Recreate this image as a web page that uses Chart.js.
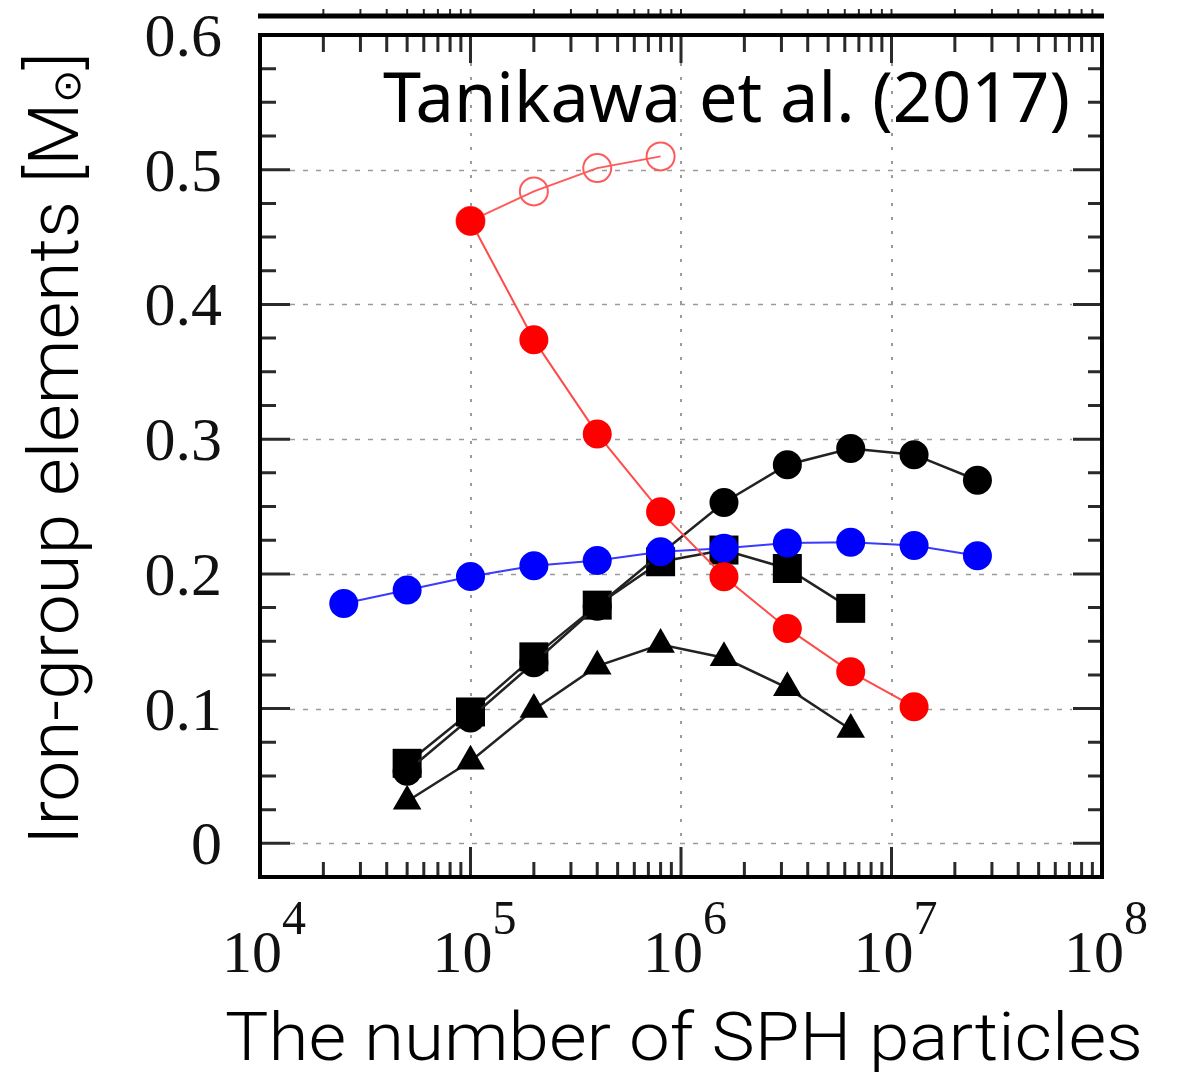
<!DOCTYPE html>
<html><head><meta charset="utf-8">
<script src="https://cdn.jsdelivr.net/npm/chart.js@4.4.0/dist/chart.umd.min.js"></script>
<style>html,body{margin:0;padding:0;background:#fff;} canvas{display:block;}</style>
</head><body>
<canvas id="c" width="1178" height="1072"></canvas>
<script>
// ---- data ----
const particleCounts = [25000, 50000, 100000, 200000, 400000, 800000, 1600000, 3200000, 6400000, 12800000, 25600000];

const xBlue = particleCounts;
const blueValues = [0.178, 0.188, 0.198, 0.206, 0.210, 0.2165, 0.219, 0.223, 0.2235, 0.221, 0.2135];

const xBlackCircle = particleCounts.slice(1);
const blackCircleValues = [0.0535, 0.093, 0.134, 0.176, 0.215, 0.253, 0.281, 0.293, 0.2885, 0.2695];

const xBlackSquare = particleCounts.slice(1, 9);
const blackSquareValues = [0.0594, 0.0975, 0.1384, 0.1768, 0.209, 0.2177, 0.204, 0.1744];

const xBlackTriangle = particleCounts.slice(1, 9);
const blackTriangleValues = [0.0312, 0.0609, 0.0993, 0.1315, 0.1476, 0.1377, 0.1154, 0.0845];

const xRedFilled = particleCounts.slice(2, 10);
const redFilledValues = [0.462, 0.3737, 0.3039, 0.2462, 0.1979, 0.1595, 0.1273, 0.1013];

const xRedOpen = particleCounts.slice(2, 6);
const redOpenValues = [0.462, 0.4839, 0.5012, 0.5099];

const yTickValues = [0, 0.1, 0.2, 0.3, 0.4, 0.5, 0.6];
const yTickLabels = ['0', '0.1', '0.2', '0.3', '0.4', '0.5', '0.6'];
const xDecades = [1e4, 1e5, 1e6, 1e7, 1e8];
const xTickExponents = ['4', '5', '6', '7', '8'];

const xTitle = 'The number of SPH particles';
const yTitleMain = 'Iron-group elements [M';
const yTitleSun = '\u2299';
const yTitleEnd = ']';
const annotationText = 'Tanikawa et al. (2017)';

function pts(xs, ys) { return xs.map((x, i) => ({ x: x, y: ys[i] })); }

function drawSegments(ctx, segs, targetWidth) {
  let w = 0;
  segs.forEach(s => { ctx.font = s.font; s.w = ctx.measureText(s.t).width; w += s.w; });
  const sx = targetWidth / w;
  ctx.save();
  ctx.scale(sx, 1);
  let cx = 0;
  segs.forEach(s => { ctx.font = s.font; ctx.fillText(s.t, cx, s.dy || 0); cx += s.w; });
  ctx.restore();
}

const deco = {
  id: 'deco',
  beforeDatasetsDraw(chart) {
    const ctx = chart.ctx, a = chart.chartArea;
    const xs = chart.scales.x, ys = chart.scales.y;
    ctx.save();
    // grid
    ctx.strokeStyle = '#9a9a9a';
    ctx.lineWidth = 1.5;
    ctx.setLineDash([5, 8]);
    yTickValues.forEach(v => {
      if (v >= 0.6) return;
      const py = Math.round(ys.getPixelForValue(v)) + 0.5;
      ctx.beginPath(); ctx.moveTo(a.left + 30, py); ctx.lineTo(a.right - 30, py); ctx.stroke();
    });
    ctx.setLineDash([3, 11]);
    ctx.lineWidth = 2;
    xDecades.forEach(v => {
      if (v <= 1e4 || v >= 1e8) return;
      const px = Math.round(xs.getPixelForValue(v));
      ctx.beginPath(); ctx.moveTo(px, a.top + 28); ctx.lineTo(px, a.bottom - 30); ctx.stroke();
    });
    ctx.setLineDash([]);
    // tick marks
    ctx.strokeStyle = '#2a2a2a';
    ctx.lineWidth = 3;
    for (let d = 4; d < 8; d++) {
      for (let m = 1; m <= 9; m++) {
        const v = m * Math.pow(10, d);
        if (m === 1 && d === 4) continue;
        const px = xs.getPixelForValue(v);
        const major = (m === 1);
        const lb = major ? 30 : 15, lt = major ? 28 : 17;
        ctx.beginPath();
        ctx.moveTo(px, a.bottom); ctx.lineTo(px, a.bottom - lb);
        ctx.moveTo(px, a.top); ctx.lineTo(px, a.top + lt);
        ctx.stroke();
        // ticks of the panel above
        ctx.lineWidth = 2;
        ctx.beginPath(); ctx.moveTo(px, 9); ctx.lineTo(px, 16); ctx.stroke();
        ctx.lineWidth = 3;
      }
    }
    for (let k = -1; k <= 24; k++) {
      const v = k * 0.025;
      const py = ys.getPixelForValue(v);
      const major = (k % 4 === 0);
      if (k === 24) continue;
      const ll = major ? 30 : 16, lr = major ? 29 : 14;
      ctx.beginPath();
      ctx.moveTo(a.left, py); ctx.lineTo(a.left + ll, py);
      ctx.moveTo(a.right, py); ctx.lineTo(a.right - lr, py);
      ctx.stroke();
    }
    ctx.restore();
  },
  afterDatasetsDraw(chart) {
    const ctx = chart.ctx, a = chart.chartArea;
    const xs = chart.scales.x, ys = chart.scales.y;
    ctx.save();
    // frame
    ctx.strokeStyle = '#000';
    ctx.lineWidth = 4;
    ctx.strokeRect(a.left, a.top, a.right - a.left, a.bottom - a.top);
    // line of the panel above
    ctx.lineWidth = 5;
    ctx.beginPath(); ctx.moveTo(a.left - 2, 16); ctx.lineTo(a.right + 2, 16); ctx.stroke();
    // y tick labels
    ctx.fillStyle = '#111';
    ctx.textAlign = 'right';
    ctx.textBaseline = 'alphabetic';
    ctx.font = '62px "Liberation Serif"';
    yTickValues.forEach((v, i) => {
      const py = ys.getPixelForValue(v);
      ctx.fillText(yTickLabels[i], a.left - 38, py + 21);
    });
    // x tick labels 10^n
    ctx.textAlign = 'left';
    xDecades.forEach((v, i) => {
      const px = xs.getPixelForValue(v);
      ctx.font = '60px "Liberation Serif"';
      const w1 = ctx.measureText('10').width;
      ctx.font = '48px "Liberation Serif"';
      const w2 = ctx.measureText(xTickExponents[i]).width;
      const left = px + 4 - (w1 + w2) / 2;
      ctx.font = '60px "Liberation Serif"';
      ctx.fillText('10', left, 972);
      ctx.font = '48px "Liberation Serif"';
      ctx.fillText(xTickExponents[i], left + w1, 934);
    });
    ctx.fillStyle = '#000';
    // x title
    ctx.save();
    ctx.translate(225, 1060);
    drawSegments(ctx, [{ t: xTitle, font: '300 66px Roboto' }], 918);
    ctx.restore();
    // y title (rotated)
    ctx.save();
    ctx.translate(78, 845);
    ctx.rotate(-Math.PI / 2);
    drawSegments(ctx, [
      { t: yTitleMain, font: '300 70px Roboto' },
      { t: yTitleSun, font: '38px "DejaVu Sans"', dy: 2 },
      { t: yTitleEnd, font: '300 70px Roboto' }
    ], 793);
    ctx.restore();
    // annotation
    ctx.save();
    ctx.translate(383, 122);
    drawSegments(ctx, [{ t: annotationText, font: '70px "Noto Sans"' }], 687);
    ctx.restore();
    ctx.restore();
  }
};

new Chart(document.getElementById('c'), {
  type: 'line',
  data: {
    datasets: [
      { label: 'red', data: pts(xRedFilled, redFilledValues), order: 0,
        borderColor: '#ff4a4a', borderWidth: 2, pointStyle: 'circle', pointRadius: 14.5,
        pointBackgroundColor: '#ff0000', pointBorderWidth: 0 },
      { label: 'open red', data: pts(xRedOpen, redOpenValues), order: 1,
        borderColor: '#ff5a5a', borderWidth: 2, pointStyle: 'circle', pointRadius: 14,
        pointBackgroundColor: 'rgba(0,0,0,0)', pointBorderColor: '#ff5a5a', pointBorderWidth: 2 },
      { label: 'blue', data: pts(xBlue, blueValues), order: 2,
        borderColor: '#3a3aff', borderWidth: 2, pointStyle: 'circle', pointRadius: 14.5,
        pointBackgroundColor: '#0000ff', pointBorderWidth: 0 },
      { label: 'black circles', data: pts(xBlackCircle, blackCircleValues), order: 3,
        borderColor: '#222', borderWidth: 2.5, pointStyle: 'circle', pointRadius: 14.5,
        pointBackgroundColor: '#000', pointBorderWidth: 0 },
      { label: 'black squares', data: pts(xBlackSquare, blackSquareValues), order: 4,
        borderColor: '#222', borderWidth: 2.5, pointStyle: 'rect', pointRadius: 20.5,
        pointBackgroundColor: '#000', pointBorderWidth: 0 },
      { label: 'black triangles', data: pts(xBlackTriangle, blackTriangleValues), order: 5,
        borderColor: '#222', borderWidth: 2.5, pointStyle: 'triangle', pointRadius: 16.5,
        pointBackgroundColor: '#000', pointBorderWidth: 0 }
    ]
  },
  options: {
    responsive: false, animation: false, devicePixelRatio: 1,
    layout: { padding: { left: 260, right: 76, top: 35, bottom: 195 } },
    plugins: { legend: { display: false }, tooltip: { enabled: false } },
    elements: { line: { tension: 0, fill: false } },
    scales: {
      x: { type: 'logarithmic', min: 1e4, max: 1e8,
           grid: { display: false, drawTicks: false }, border: { display: false }, ticks: { display: false } },
      y: { type: 'linear', min: -0.025, max: 0.6,
           grid: { display: false, drawTicks: false }, border: { display: false }, ticks: { display: false } }
    }
  },
  plugins: [deco]
});
</script>
</body></html>
